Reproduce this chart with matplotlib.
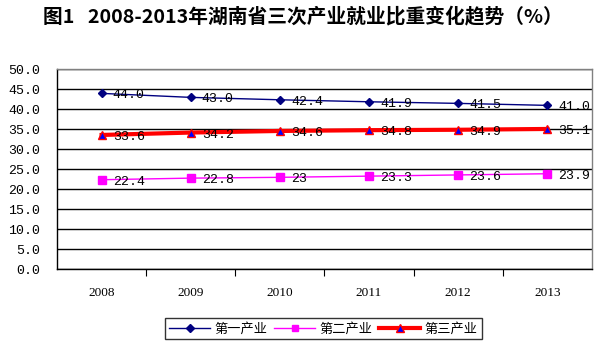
import matplotlib
matplotlib.use("Agg")
import matplotlib.pyplot as plt
from matplotlib.ticker import FixedLocator, NullFormatter

plt.rcParams['font.family'] = ['Noto Sans CJK SC', 'DejaVu Sans']

years = ['2008', '2009', '2010', '2011', '2012', '2013']
primary = [44.0, 43.0, 42.4, 41.9, 41.5, 41.0]
secondary = [22.4, 22.8, 23.0, 23.3, 23.6, 23.9]
tertiary = [33.6, 34.2, 34.6, 34.8, 34.9, 35.1]
primary_labels = ['44.0', '43.0', '42.4', '41.9', '41.5', '41.0']
secondary_labels = ['22.4', '22.8', '23', '23.3', '23.6', '23.9']
tertiary_labels = ['33.6', '34.2', '34.6', '34.8', '34.9', '35.1']
series_names = ['第一产业', '第二产业', '第三产业']
title = '图1   2008-2013年湖南省三次产业就业比重变化趋势（%）'

fig = plt.figure(figsize=(5.99, 3.47), dpi=100)
ax = fig.add_axes([0.0952, 0.224, 0.893, 0.576])

x = list(range(len(years)))
l1, = ax.plot(x, primary, color='#000080', lw=1, marker='D', ms=4.5,
              mfc='#000080', mec='#000080', zorder=4)
l2, = ax.plot(x, secondary, color='#FF00FF', lw=1, marker='s', ms=5.5,
              mfc='#FF00FF', mec='#FF00FF', zorder=4)
l3, = ax.plot(x, tertiary, color='#FF0000', lw=3, marker='^', ms=6,
              mfc='#0000FF', mec='#FF0000', mew=1, zorder=4)

mono = ['Liberation Mono', 'DejaVu Sans']
for vals, labs in [(primary, primary_labels), (secondary, secondary_labels),
                   (tertiary, tertiary_labels)]:
    for xi, v, t in zip(x, vals, labs):
        ax.annotate(t, (xi, v), xytext=(8, -1.5), textcoords='offset points',
                    ha='left', va='center', fontsize=9.5, color='black', zorder=5,
                    family=mono)

ax.set_xlim(-0.5, 5.5)
ax.set_ylim(0, 50)
ax.yaxis.set_major_locator(FixedLocator([i * 5 for i in range(11)]))
ax.set_yticklabels([f'{i*5:.1f}' for i in range(11)], fontsize=9.5, family=mono)
ax.tick_params(axis='y', length=0, pad=12)
ax.grid(axis='y', color='black', lw=1)
ax.set_axisbelow(True)

ax.xaxis.set_major_locator(FixedLocator([0.5, 1.5, 2.5, 3.5, 4.5]))
ax.xaxis.set_major_formatter(NullFormatter())
ax.tick_params(axis='x', which='major', length=5, direction='out', color='black')
ax.xaxis.set_minor_locator(FixedLocator(x))
ax.set_xticklabels(years, minor=True, fontsize=9.5, family=['Liberation Serif', 'DejaVu Sans'])
ax.tick_params(axis='x', which='minor', length=0, pad=13)

for s in ['left', 'bottom']:
    ax.spines[s].set_color('black')
    ax.spines[s].set_linewidth(1)
for s in ['top', 'right']:
    ax.spines[s].set_color('#808080')
    ax.spines[s].set_linewidth(1)

fig.text(0.506, 0.953, title, ha='center', va='center', fontsize=14.2, fontweight='bold')

leg = fig.legend([l1, l2, l3], series_names, loc='center', bbox_to_anchor=(0.54, 0.052),
                 ncol=3, fontsize=9.5, frameon=True, fancybox=False, edgecolor='black',
                 handlelength=3.1, columnspacing=0.5, handletextpad=0.35,
                 borderpad=0.3, markerscale=0.9)
leg.get_frame().set_linewidth(1)

fig.savefig('out.png', dpi=100)
